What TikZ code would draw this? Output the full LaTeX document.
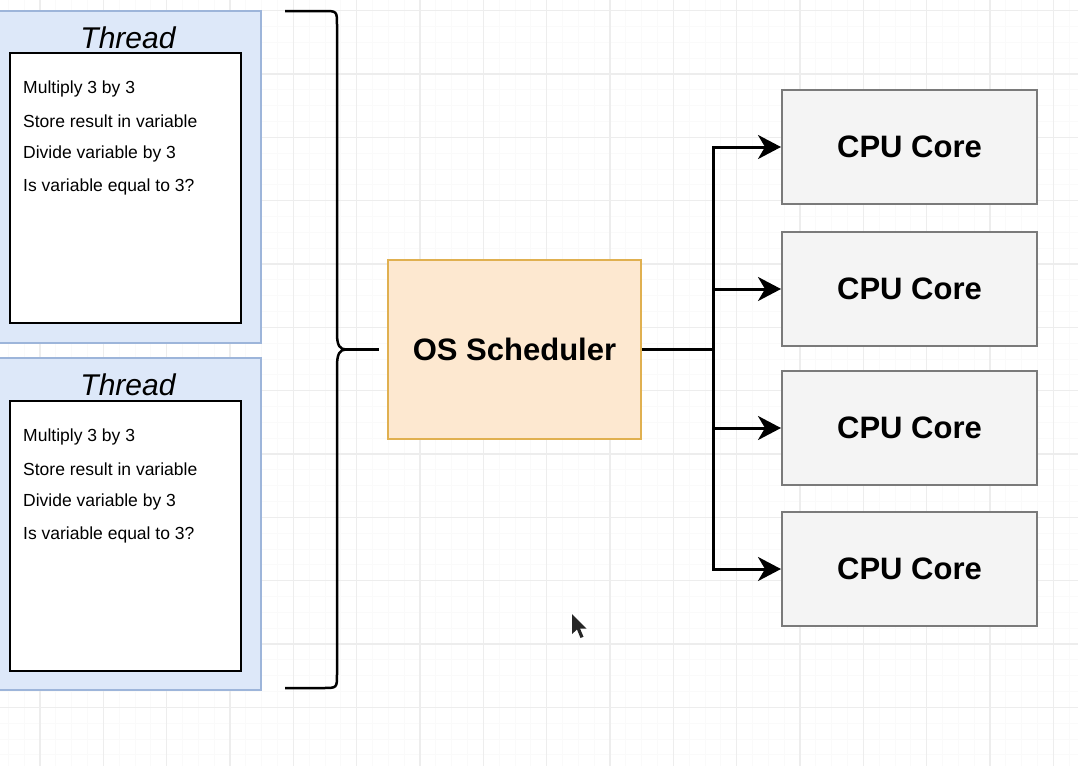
\documentclass[tikz,border=0pt]{standalone}
\usepackage{fontspec}
\setmainfont{Liberation Sans}
\usetikzlibrary{arrows.meta}

\definecolor{threadfill}{HTML}{DDE8F9}
\definecolor{threadline}{HTML}{9DB5DA}
\definecolor{schedfill}{HTML}{FDE8D0}
\definecolor{schedline}{HTML}{E0B050}
\definecolor{corefill}{HTML}{F4F4F4}
\definecolor{coreline}{HTML}{7A7A7A}
\definecolor{gridmajor}{HTML}{EDEDED}
\definecolor{gridminor}{HTML}{FAFAFA}

\tikzset{
  threadbox/.style={draw=threadline, fill=threadfill, line width=2pt,
    minimum width=268pt, minimum height=332pt, inner sep=0pt},
  taskbox/.style={draw=black, fill=white, line width=2.4pt,
    minimum width=231pt, minimum height=270pt, inner sep=0pt},
  threadlabel/.style={font=\fontsize{30}{34}\selectfont\itshape, inner sep=0pt},
  taskline/.style={anchor=west, font=\fontsize{17.5}{20}\selectfont, inner sep=0pt},
  schedbox/.style={draw=schedline, fill=schedfill, line width=2pt,
    minimum width=253pt, minimum height=179pt, inner sep=0pt,
    font=\fontsize{31}{36}\selectfont\bfseries},
  corebox/.style={draw=coreline, fill=corefill, line width=2pt,
    minimum width=255pt, minimum height=114pt, inner sep=0pt,
    font=\fontsize{31}{36}\selectfont\bfseries},
  wire/.style={draw=black, line width=3pt},
  feed/.style={wire, -{Stealth[length=23pt, width=24pt, inset=7pt]}},
  bracepath/.style={draw=black, line width=2.5pt},
}

\begin{document}
\begin{tikzpicture}[x=1pt, y=-1pt]
  % canvas and grid
  \fill[white] (0,0) rectangle (1078,766);
  \useasboundingbox (0,0) rectangle (1078,766);
  \foreach \k in {-3,...,68} {
    \draw[gridminor, line width=0.8pt] ({40+15.833*\k},0) -- ({40+15.833*\k},766);
  }
  \foreach \k in {0,...,49} {
    \draw[gridminor, line width=0.8pt] (0,{10.7+15.833*\k}) -- (1078,{10.7+15.833*\k});
  }
  \foreach \k in {0,...,16} {
    \draw[gridmajor, line width=1.2pt] ({40+63.33*\k},0) -- ({40+63.33*\k},766);
  }
  \foreach \k in {0,...,11} {
    \draw[gridmajor, line width=1.2pt] (0,{10.7+63.33*\k}) -- (1078,{10.7+63.33*\k});
  }

  % first thread
  \node[threadbox] (t1) at (127,177) {};
  \node[threadlabel] (t1l) at (128,38) {Thread};
  \node[taskbox] (t1b) at (125.5,188) {};
  \node[taskline] (t1a) at (23,88.5) {Multiply 3 by 3};
  \node[taskline] (t1c) at (23,121.5) {Store result in variable};
  \node[taskline] (t1d) at (23,153.5) {Divide variable by 3};
  \node[taskline] (t1e) at (23,186.5) {Is variable equal to 3?};

  % second thread
  \node[threadbox] (t2) at (127,524) {};
  \node[threadlabel] (t2l) at (128,385) {Thread};
  \node[taskbox] (t2b) at (125.5,536) {};
  \node[taskline] (t2a) at (23,436.5) {Multiply 3 by 3};
  \node[taskline] (t2c) at (23,469.5) {Store result in variable};
  \node[taskline] (t2d) at (23,501.5) {Divide variable by 3};
  \node[taskline] (t2e) at (23,534.5) {Is variable equal to 3?};

  % scheduler and cores
  \node[schedbox] (sched) at (514.5,349.5) {OS Scheduler};
  \node[corebox] (c1) at (909.5,147) {CPU Core};
  \node[corebox] (c2) at (909.5,289) {CPU Core};
  \node[corebox] (c3) at (909.5,428) {CPU Core};
  \node[corebox] (c4) at (909.5,569) {CPU Core};

  % brace grouping both threads
  \coordinate (btop) at (285,11);
  \coordinate (bbot) at (285,688);
  \coordinate (btip) at (346,349.5);
  \draw[bracepath] (btop) -- (323,11) .. controls (337,11) .. (337,25)
    -- (337,334) .. controls (337,345.5) and (340,349.5) .. (btip)
    .. controls (340,349.5) and (337,353.5) .. (337,366)
    -- (337,674) .. controls (337,688) .. (323,688) -- (bbot);
  \draw[bracepath, shorten >=8pt] (btip) -- (sched.west);

  % scheduler fan-out to cores
  \coordinate (trunk) at (713,349.5);
  \draw[wire] (sched.east) -- (trunk);
  \draw[feed] (trunk) |- (c1.west);
  \draw[feed] (trunk) |- (c2.west);
  \draw[feed] (trunk) |- (c3.west);
  \draw[feed] (trunk) |- (c4.west);

  % mouse pointer
  \fill[black!85] (572,614) -- (572,634) -- (577,629.5) -- (580.5,638) -- (583.5,636.7)
    -- (580,628.5) -- (586.5,628.5) -- cycle;
\end{tikzpicture}
\end{document}
